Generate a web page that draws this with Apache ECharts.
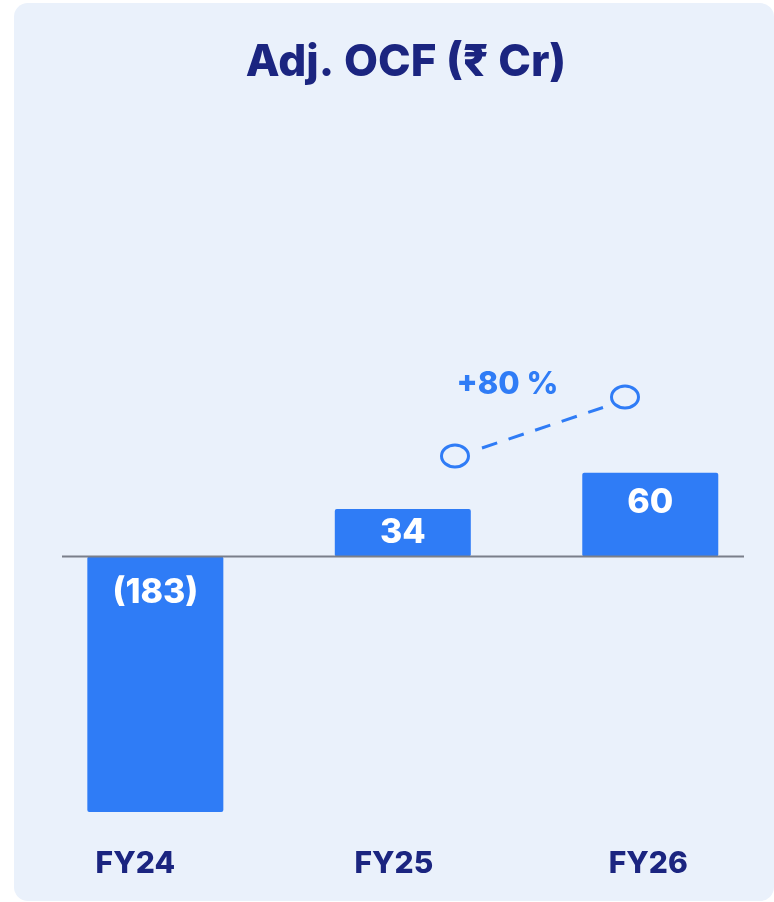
<!DOCTYPE html>
<html>
<head>
<meta charset="utf-8">
<script src="https://cdn.jsdelivr.net/npm/echarts@6/dist/echarts.min.js"></script>
<style>
  html, body { margin: 0; padding: 0; background: #ffffff; }
  #panel { position: absolute; left: 14px; top: 3px; width: 760px; height: 898px; background: #EAF1FB; border-radius: 14px; }
  #chart { position: absolute; left: 0; top: 0; width: 774px; height: 902px; }
</style>
</head>
<body>
<div id="panel"></div>
<div id="chart"></div>
<script>
// ---- data ----
const categories = ['FY24', 'FY25', 'FY26'];
const ocfValues = [-183, 34, 60];
const valueLabels = ['(183)', '34', '60'];
const growthLabel = '+80 %';
const titleText = 'Adj. OCF (₹ Cr)';

// ---- styles ----
const FONT = 'Inter, "Noto Sans", sans-serif';
const NAVY = '#1B2580';
const BLUE = '#2F7CF6';
const labelPos = ['insideTop', 'inside', 'insideTop'];
const labelDist = [19, 5, 13];
const catShift = { FY24: 40, FY25: 18, FY26: 4 };

const chart = echarts.init(document.getElementById('chart'), null, { renderer: 'canvas' });

const barData = ocfValues.map((v, i) => ({
  value: v,
  label: { position: labelPos[i], distance: labelDist[i], formatter: valueLabels[i] }
}));

const catRich = {};
Object.keys(catShift).forEach(k => {
  catRich[k] = { fontFamily: FONT, fontWeight: 800, fontSize: 30, color: NAVY, padding: [0, catShift[k], 0, 0] };
});

const option = {
  backgroundColor: 'transparent',
  animation: false,
  title: {
    text: titleText,
    left: 401,
    top: 36,
    textAlign: 'center',
    textStyle: { fontFamily: FONT, fontWeight: 800, fontSize: 44, color: NAVY }
  },
  grid: { left: 31.6, width: 742.5, top: 333, height: 488.7, containLabel: false },
  xAxis: {
    type: 'category',
    data: categories,
    axisLine: { show: false },
    axisTick: { show: false },
    axisLabel: {
      interval: 0,
      hideOverlap: false,
      margin: 27,
      fontFamily: FONT,
      fontWeight: 800,
      fontSize: 30,
      color: NAVY,
      formatter: function (v) { return '{' + v + '|' + v + '}'; },
      rich: catRich
    }
  },
  yAxis: {
    type: 'value',
    min: -190,
    max: 160,
    show: false,
    splitLine: { show: false }
  },
  series: [{
    type: 'bar',
    data: barData,
    barWidth: 136,
    itemStyle: { color: BLUE, borderRadius: 2 },
    label: {
      show: true,
      color: '#ffffff',
      fontFamily: FONT,
      fontWeight: 800,
      fontSize: 34
    }
  }]
};
chart.setOption(option);

// baseline at zero and growth annotation
const y0 = chart.convertToPixel({ yAxisIndex: 0 }, 0);
chart.setOption({
  graphic: [
    { type: 'line', z: 10, shape: { x1: 62, y1: y0, x2: 744, y2: y0 }, style: { stroke: '#7A7F8A', lineWidth: 2 } },
    { type: 'ellipse', z: 10, shape: { cx: 455, cy: 456, rx: 13.5, ry: 11 }, style: { fill: 'none', stroke: BLUE, lineWidth: 3 } },
    { type: 'ellipse', z: 10, shape: { cx: 625, cy: 397, rx: 13.5, ry: 11 }, style: { fill: 'none', stroke: BLUE, lineWidth: 3 } },
    { type: 'line', z: 10, shape: { x1: 482, y1: 448, x2: 603, y2: 407.5 }, style: { stroke: BLUE, lineWidth: 3, lineDash: [16, 12] } },
    { type: 'text', z: 10, x: 507.5, y: 385, style: { text: growthLabel, fill: BLUE, font: '800 31px ' + FONT, textAlign: 'center', textVerticalAlign: 'middle' } }
  ]
});
</script>
</body>
</html>
